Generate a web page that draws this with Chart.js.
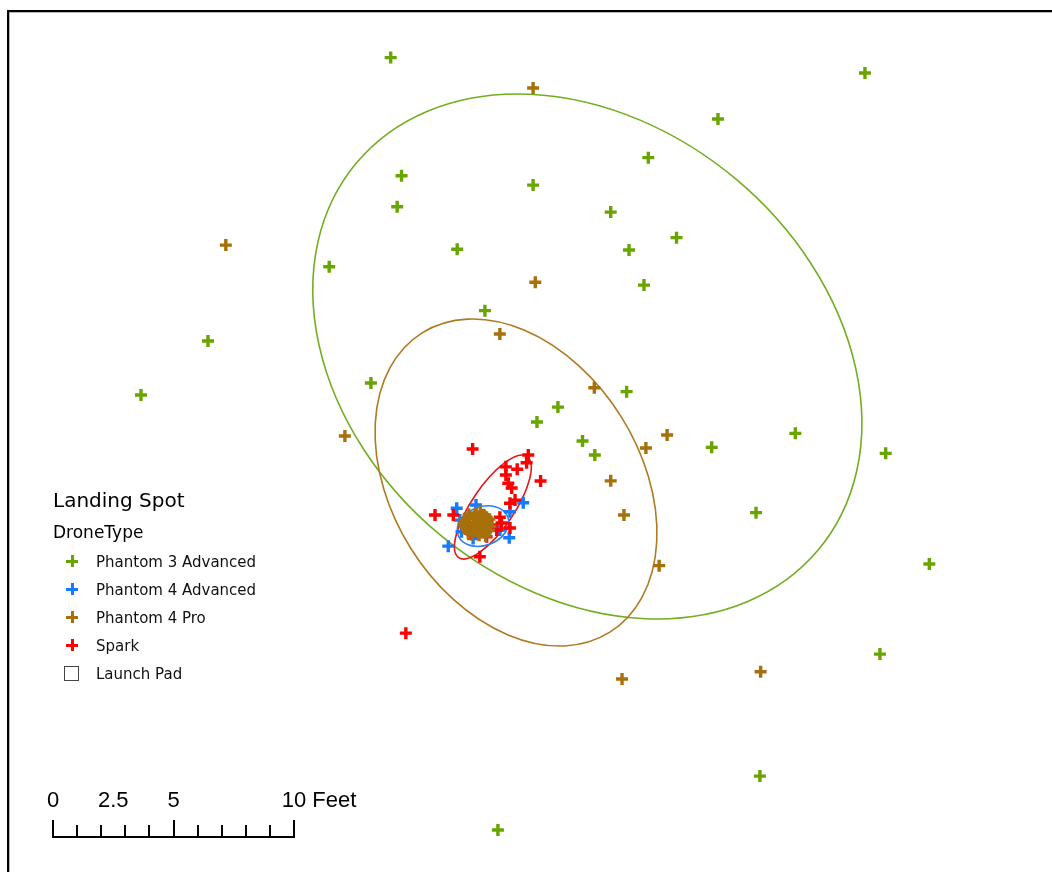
<!DOCTYPE html>
<html>
<head>
<meta charset="utf-8">
<title>Landing Spot</title>
<script src="https://cdn.jsdelivr.net/npm/chart.js@4.4.1/dist/chart.umd.min.js"></script>
<style>
  html, body { margin: 0; padding: 0; background: #fff; }
  #wrap { position: relative; width: 1052px; height: 872px; overflow: hidden; background: #fff; }
  #map { position: absolute; left: 0; top: 0; }
  .frame { position: absolute; left: 7px; top: 10px; right: -10px; bottom: -10px;
           border-top: 2px solid #000; border-left: 2px solid #000; pointer-events: none; }
  .frame-shade { position: absolute; left: 9px; top: 12px; right: -10px; bottom: -10px;
           border-top: 1px solid #b4b4b4; border-left: 1px solid #b4b4b4; pointer-events: none; }
  .lg { position: absolute; font-family: "DejaVu Sans", Verdana, sans-serif; color: #000; white-space: nowrap; }
  .lg-title { left: 53px; top: 490px; font-size: 20px; line-height: 20px; }
  .lg-sub { left: 53px; top: 524px; font-size: 17px; line-height: 17px; }
  .lg-item { left: 96px; font-size: 15px; line-height: 15px; color: #111; }
  .mk { position: absolute; width: 12px; height: 12px; }
  .pad { position: absolute; left: 64px; top: 666px; width: 13px; height: 13px; border: 1px solid #444; background: #fff; }
</style>
</head>
<body>
<div id="wrap">
  <canvas id="map" width="1052" height="872"></canvas>
  <div class="frame"></div>
  <div class="frame-shade"></div>
  <div id="legend"></div>
</div>
<script>
// Landing positions in feet, relative to the launch pad (x = east, y = north)
const phantom3Advanced = [
  [-3.62, 19.27], [16.06, 18.63], [9.96, 16.72], [7.07, 15.12], [-3.17, 14.37],
  [2.29, 13.98], [-3.35, 13.08], [5.51, 12.86], [8.24, 11.80], [-0.86, 11.32],
  [6.27, 11.29], [-6.17, 10.59], [6.89, 9.83], [0.29, 8.77], [-11.20, 7.51],
  [-13.98, 5.27], [-4.44, 5.77], [6.17, 5.41], [3.32, 4.77], [2.45, 4.15],
  [4.34, 3.36], [4.85, 2.78], [9.70, 3.10], [13.17, 3.68], [16.92, 2.85],
  [11.54, 0.39], [18.73, -1.74], [16.68, -5.48], [11.70, -10.54], [0.83, -12.78]
];
const phantom4Advanced = [
  [1.88, 0.80], [-0.88, 0.57], [-0.08, 0.71], [1.33, 0.43], [-0.75, 0.08],
  [-0.68, -0.40], [-0.20, -0.68], [1.30, -0.65], [-1.23, -1.00], [0.91, -0.33]
];
const phantom4Pro = [
  [2.29, 18.01], [-10.46, 11.49], [2.38, 9.95], [0.91, 7.80], [-5.52, 3.57],
  [4.83, 5.57], [7.85, 3.61], [6.97, 3.07], [5.51, 1.71], [6.06, 0.29],
  [7.52, -1.81], [5.98, -6.51], [11.73, -6.21],
  // tight group at the pad
  [-0.55, 0.08], [-0.38, 0.32], [-0.08, 0.38], [0.24, 0.30], [0.48, 0.12],
  [0.52, -0.18], [0.34, -0.42], [0.05, -0.55], [-0.24, -0.52], [-0.46, -0.30],
  [-0.60, -0.08], [0.00, 0.00], [-0.18, 0.14], [0.20, 0.02], [0.08, -0.26],
  [-0.26, -0.20], [0.32, -0.58], [-0.02, 0.22],
  [-0.40, 0.18], [-0.12, 0.30], [0.12, 0.16], [0.36, 0.20], [0.40, -0.05],
  [0.22, -0.20], [-0.06, -0.12], [-0.34, -0.06], [-0.14, -0.36], [0.18, -0.40],
  [-0.40, -0.45], [0.45, -0.35], [-0.52, -0.20], [0.10, 0.42]
];
const spark = [
  [-0.22, 3.03], [2.09, 2.78], [2.02, 2.46], [1.16, 2.29], [1.63, 2.19],
  [1.16, 1.95], [1.26, 1.61], [2.60, 1.70], [1.40, 1.41], [1.54, 0.91],
  [1.33, 0.78], [-1.78, 0.29], [-1.02, 0.29], [0.91, 0.20], [0.57, -0.12],
  [0.98, -0.04], [1.33, -0.25], [0.78, -0.33], [0.36, -0.61], [0.08, -1.44],
  [-0.33, -0.46], [-0.47, -0.20], [-2.99, -4.61]
];
const launchPad = [[0, 0]];

// Standard deviational ellipses: [centerX, centerY, semiMajor, semiMinor, angleDeg (counter-clockwise)]
const ellipsePhantom3Advanced = [4.54, 6.87, 12.50, 9.60, -40];
const ellipsePhantom4Pro = [1.58, 1.64, 7.33, 5.15, -57.9];
const ellipseSpark = [0.62, 0.62, 2.53, 0.88, 56];
const ellipsePhantom4Advanced = [0.21, -0.17, 1.10, 0.80, 20];

// Map extent in feet
const extentX = [-19.83, 23.82];
const extentY = [-14.52, 21.66];

// Scale bar
const scaleBarTicks = [0, 1, 2, 3, 4, 5, 6, 7, 8, 9, 10];
const scaleBarMajor = [0, 5, 10];
const scaleBarLabelValues = [0, 2.5, 5, 10];
const scaleBarLabels = ['0', '2.5', '5', '10'];
const scaleBarUnit = 'Feet';

const seriesNames = ['Phantom 3 Advanced', 'Phantom 4 Advanced', 'Phantom 4 Pro', 'Spark'];
const GREEN = '#6aa400';
const BLUE = '#167aff';
const BROWN = '#a8700a';
const RED = '#ff0000';
const GREEN_LINE = '#74ad22';
const BROWN_LINE = '#b07a20';
const RED_LINE = '#e8141c';
const BLUE_LINE = '#2a80f0';

const toPts = arr => arr.map(([x, y]) => ({ x, y }));

function crossSet(label, pts, color, order) {
  return {
    label, data: toPts(pts), order,
    pointStyle: 'cross', pointRadius: 6, pointHoverRadius: 6,
    borderColor: color, backgroundColor: color, pointBorderWidth: 3.4, pointHoverBorderWidth: 3.4,
    showLine: false
  };
}

const ellipses = [
  [ellipsePhantom3Advanced, GREEN_LINE],
  [ellipsePhantom4Pro, BROWN_LINE],
  [ellipseSpark, RED_LINE],
  [ellipsePhantom4Advanced, BLUE_LINE]
];

const ellipsePlugin = {
  id: 'sdEllipses',
  beforeDatasetsDraw(chart) {
    const { ctx } = chart;
    const xs = chart.scales.x, ys = chart.scales.y;
    const kx = xs.getPixelForValue(1) - xs.getPixelForValue(0);
    const ky = ys.getPixelForValue(0) - ys.getPixelForValue(1);
    ctx.save();
    ellipses.forEach(([e, color]) => {
      const [cx, cy, a, b, ang] = e;
      ctx.beginPath();
      ctx.ellipse(xs.getPixelForValue(cx), ys.getPixelForValue(cy), a * kx, b * ky,
        -ang * Math.PI / 180, 0, Math.PI * 2);
      ctx.strokeStyle = color;
      ctx.lineWidth = 1.6;
      ctx.stroke();
    });
    ctx.restore();
  }
};

const scaleBarPlugin = {
  id: 'scaleBar',
  afterDraw(chart) {
    const { ctx } = chart;
    const xs = chart.scales.x;
    const unit = xs.getPixelForValue(1) - xs.getPixelForValue(0);
    const left = 53, baseY = 837;
    ctx.save();
    ctx.strokeStyle = '#000';
    ctx.lineWidth = 2;
    ctx.beginPath();
    ctx.moveTo(left - 1, baseY);
    ctx.lineTo(left + 10 * unit + 1, baseY);
    scaleBarTicks.forEach(t => {
      const px = Math.round(left + t * unit);
      const top = scaleBarMajor.includes(t) ? 820 : 825;
      ctx.moveTo(px, baseY);
      ctx.lineTo(px, top);
    });
    ctx.stroke();
    ctx.fillStyle = '#000';
    ctx.font = '22px "Liberation Sans", Arial, sans-serif';
    ctx.textBaseline = 'alphabetic';
    scaleBarLabelValues.forEach((v, i) => {
      const px = left + v * unit;
      const txt = scaleBarLabels[i];
      if (i === scaleBarLabels.length - 1) {
        const w = ctx.measureText(txt).width;
        ctx.textAlign = 'left';
        ctx.fillText(txt + ' ' + scaleBarUnit, px - w / 2, 807);
      } else {
        ctx.textAlign = 'center';
        ctx.fillText(txt, px, 807);
      }
    });
    ctx.restore();
  }
};

new Chart(document.getElementById('map'), {
  type: 'scatter',
  data: {
    datasets: [
      crossSet(seriesNames[2], phantom4Pro, BROWN, 0),
      crossSet(seriesNames[3], spark, RED, 1),
      crossSet(seriesNames[1], phantom4Advanced, BLUE, 2),
      crossSet(seriesNames[0], phantom3Advanced, GREEN, 3),
      {
        label: 'Launch Pad', data: toPts(launchPad), order: 4,
        pointStyle: 'rect', pointRadius: 7, borderColor: '#444', backgroundColor: 'rgba(255,255,255,0)',
        pointBorderWidth: 1
      }
    ]
  },
  options: {
    responsive: false,
    animation: false,
    devicePixelRatio: 1,
    layout: { padding: 0, autoPadding: false },
    plugins: { legend: { display: false }, tooltip: { enabled: false } },
    events: [],
    scales: {
      x: { type: 'linear', min: extentX[0], max: extentX[1], display: false },
      y: { type: 'linear', min: extentY[0], max: extentY[1], display: false }
    }
  },
  plugins: [ellipsePlugin, scaleBarPlugin]
});

// Legend
const legendColors = [GREEN, BLUE, BROWN, RED];
const legendEl = document.getElementById('legend');
let html = '<div class="lg lg-title">Landing Spot</div><div class="lg lg-sub">DroneType</div>';
seriesNames.forEach((name, i) => {
  const c = legendColors[i];
  const cy = 561 + i * 28;
  html += '<div class="mk" style="left:66px;top:' + (cy - 6) + 'px;background:' +
    'linear-gradient(' + c + ',' + c + ') center/3px 12px no-repeat,' +
    'linear-gradient(' + c + ',' + c + ') center/12px 3px no-repeat;"></div>';
  html += '<div class="lg lg-item" style="top:' + (555 + i * 28) + 'px">' + name + '</div>';
});
html += '<div class="pad"></div><div class="lg lg-item" style="top:' + (555 + 4 * 28) + 'px">Launch Pad</div>';
legendEl.innerHTML = html;
</script>
</body>
</html>
